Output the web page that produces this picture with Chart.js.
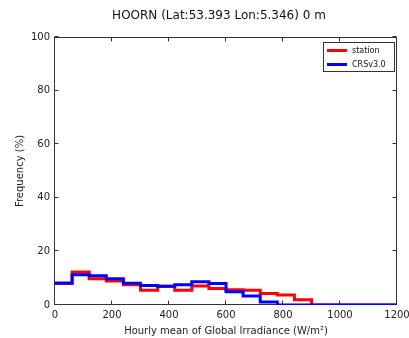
<!DOCTYPE html>
<html>
<head>
<meta charset="utf-8">
<script src="https://cdn.jsdelivr.net/npm/chart.js@4/dist/chart.umd.min.js"></script>
<style>
  html, body { margin: 0; padding: 0; background: #fff; }
  #wrap { width: 409px; height: 338px; }
</style>
</head>
<body>
<div id="wrap"><canvas id="chart-main"></canvas></div>
<script>
/* global Chart */

// bin edges of the irradiance histogram (W/m2), 60 wide
const binEdges = [0, 60, 120, 180, 240, 300, 360, 420, 480, 540, 600,
  660, 720, 780, 840, 900, 960, 1020, 1080, 1140, 1200];
// frequency (%) per bin
const stationFreq = [8.0, 12.3, 9.8, 9.0, 7.6, 5.5, 7.0, 5.5, 7.1, 6.2,
  5.7, 5.5, 4.3, 3.7, 2.0, 0, 0, 0, 0, 0];
const crsFreq = [8.2, 11.3, 10.9, 9.8, 8.1, 7.3, 7.0, 7.6, 8.7, 8.0,
  4.9, 3.4, 1.1, 0, 0, 0, 0, 0, 0, 0];
const xTicks = [0, 200, 400, 600, 800, 1000, 1200];
const yTicks = [0, 20, 40, 60, 80, 100];
const titleText = "HOORN (Lat:53.393 Lon:5.346) 0 m";

const FONT = "'DejaVu Sans', sans-serif";

// histogram outline: value i holds from edge i to edge i+1
function stepPoints(vals) {
  const pts = vals.map((v, i) => ({ x: binEdges[i], y: v }));
  pts.push({ x: binEdges[binEdges.length - 1], y: vals[vals.length - 1] });
  return pts;
}

// frame on all four sides with inward ticks, like the old matplotlib look
const framePlugin = {
  id: "frame",
  beforeDatasetsDraw(chart) {
    const { ctx, chartArea: a, scales } = chart;
    const L = Math.round(a.left) - 0.5, R = Math.round(a.right) - 0.5;
    const T = Math.round(a.top) + 0.5, B = Math.round(a.bottom) - 0.5;
    ctx.save();
    ctx.strokeStyle = "#333";
    ctx.lineWidth = 1;
    ctx.strokeRect(L, T, R - L, B - T);
    ctx.beginPath();
    for (const v of xTicks) {
      const px = Math.round(scales.x.getPixelForValue(v)) - 0.5;
      ctx.moveTo(px, B); ctx.lineTo(px, B - 4);
      ctx.moveTo(px, T); ctx.lineTo(px, T + 4);
    }
    for (const v of yTicks) {
      const py = Math.round(scales.y.getPixelForValue(v)) - 0.5;
      ctx.moveTo(L, py); ctx.lineTo(L + 4, py);
      ctx.moveTo(R, py); ctx.lineTo(R - 4, py);
    }
    ctx.stroke();
    // title, a bit left of the axes centre as in the original
    ctx.fillStyle = "#111";
    ctx.font = "12px " + FONT;
    ctx.textAlign = "center";
    ctx.textBaseline = "middle";
    ctx.fillText(titleText, 219, 16);
    ctx.restore();
  },
};

const legendPlugin = {
  id: "boxLegend",
  afterDatasetsDraw(chart) {
    const { ctx } = chart;
    const bx = 323.5, by = 42.5, bw = 71, bh = 29;
    ctx.save();
    ctx.fillStyle = "#fff";
    ctx.fillRect(bx, by, bw, bh);
    ctx.strokeStyle = "#333";
    ctx.lineWidth = 1;
    ctx.strokeRect(bx, by, bw, bh);
    ctx.font = "8px " + FONT;
    ctx.textBaseline = "middle";
    ctx.textAlign = "left";
    chart.data.datasets.forEach((ds, i) => {
      const yy = 50.5 + i * 14;
      ctx.strokeStyle = ds.borderColor;
      ctx.lineWidth = 3;
      ctx.beginPath();
      ctx.moveTo(327, yy);
      ctx.lineTo(347, yy);
      ctx.stroke();
      ctx.fillStyle = "#111";
      ctx.fillText(ds.label, 352, yy);
    });
    ctx.restore();
  },
};

const ctx = document.getElementById("chart-main").getContext("2d");
new Chart(ctx, {
  type: "line",
  data: {
    datasets: [
      {
        label: "station",
        data: stepPoints(stationFreq),
        borderColor: "#ff0000",
        borderWidth: 3,
        stepped: "before",
        pointRadius: 0,
        fill: false,
        order: 1,
      },
      {
        label: "CRSv3.0",
        data: stepPoints(crsFreq),
        borderColor: "#0000ff",
        borderWidth: 3,
        stepped: "before",
        pointRadius: 0,
        fill: false,
        order: 0,
      },
    ],
  },
  options: {
    responsive: true,
    maintainAspectRatio: false,
    animation: false,
    layout: { autoPadding: false, padding: { left: 0, right: 12, top: 37, bottom: 0 } },
    plugins: {
      legend: { display: false },
      tooltip: { enabled: false },
      title: { display: false },
    },
    scales: {
      x: {
        type: "linear",
        min: 0,
        max: 1200,
        grid: { display: false, drawTicks: false },
        border: { display: false },
        afterFit: (s) => {
          s.height = 33;
          s.paddingLeft = 0;
          s.paddingRight = 0;
        },
        afterBuildTicks: (s) => { s.ticks = xTicks.map((v) => ({ value: v })); },
        ticks: {
          padding: 4,
          maxRotation: 0,
          color: "#222",
          font: { family: FONT, size: 10 },
          callback: (v) => String(v),
        },
        title: {
          display: true,
          text: "Hourly mean of Global Irradiance (W/m²)",
          color: "#222",
          font: { family: FONT, size: 10 },
          padding: { top: 0, bottom: 1 },
        },
      },
      y: {
        min: 0,
        max: 100,
        grid: { display: false, drawTicks: false },
        border: { display: false },
        afterFit: (s) => {
          s.width = 55;
          s.paddingTop = 0;
          s.paddingBottom = 0;
        },
        afterBuildTicks: (s) => { s.ticks = yTicks.map((v) => ({ value: v })); },
        ticks: {
          padding: 5,
          color: "#222",
          font: { family: FONT, size: 10 },
          callback: (v) => String(v),
        },
        title: {
          display: true,
          text: "Frequency (%)",
          color: "#222",
          font: { family: FONT, size: 10 },
          padding: { top: 14, bottom: 0 },
        },
      },
    },
  },
  plugins: [framePlugin, legendPlugin],
});
</script>
</body>
</html>
